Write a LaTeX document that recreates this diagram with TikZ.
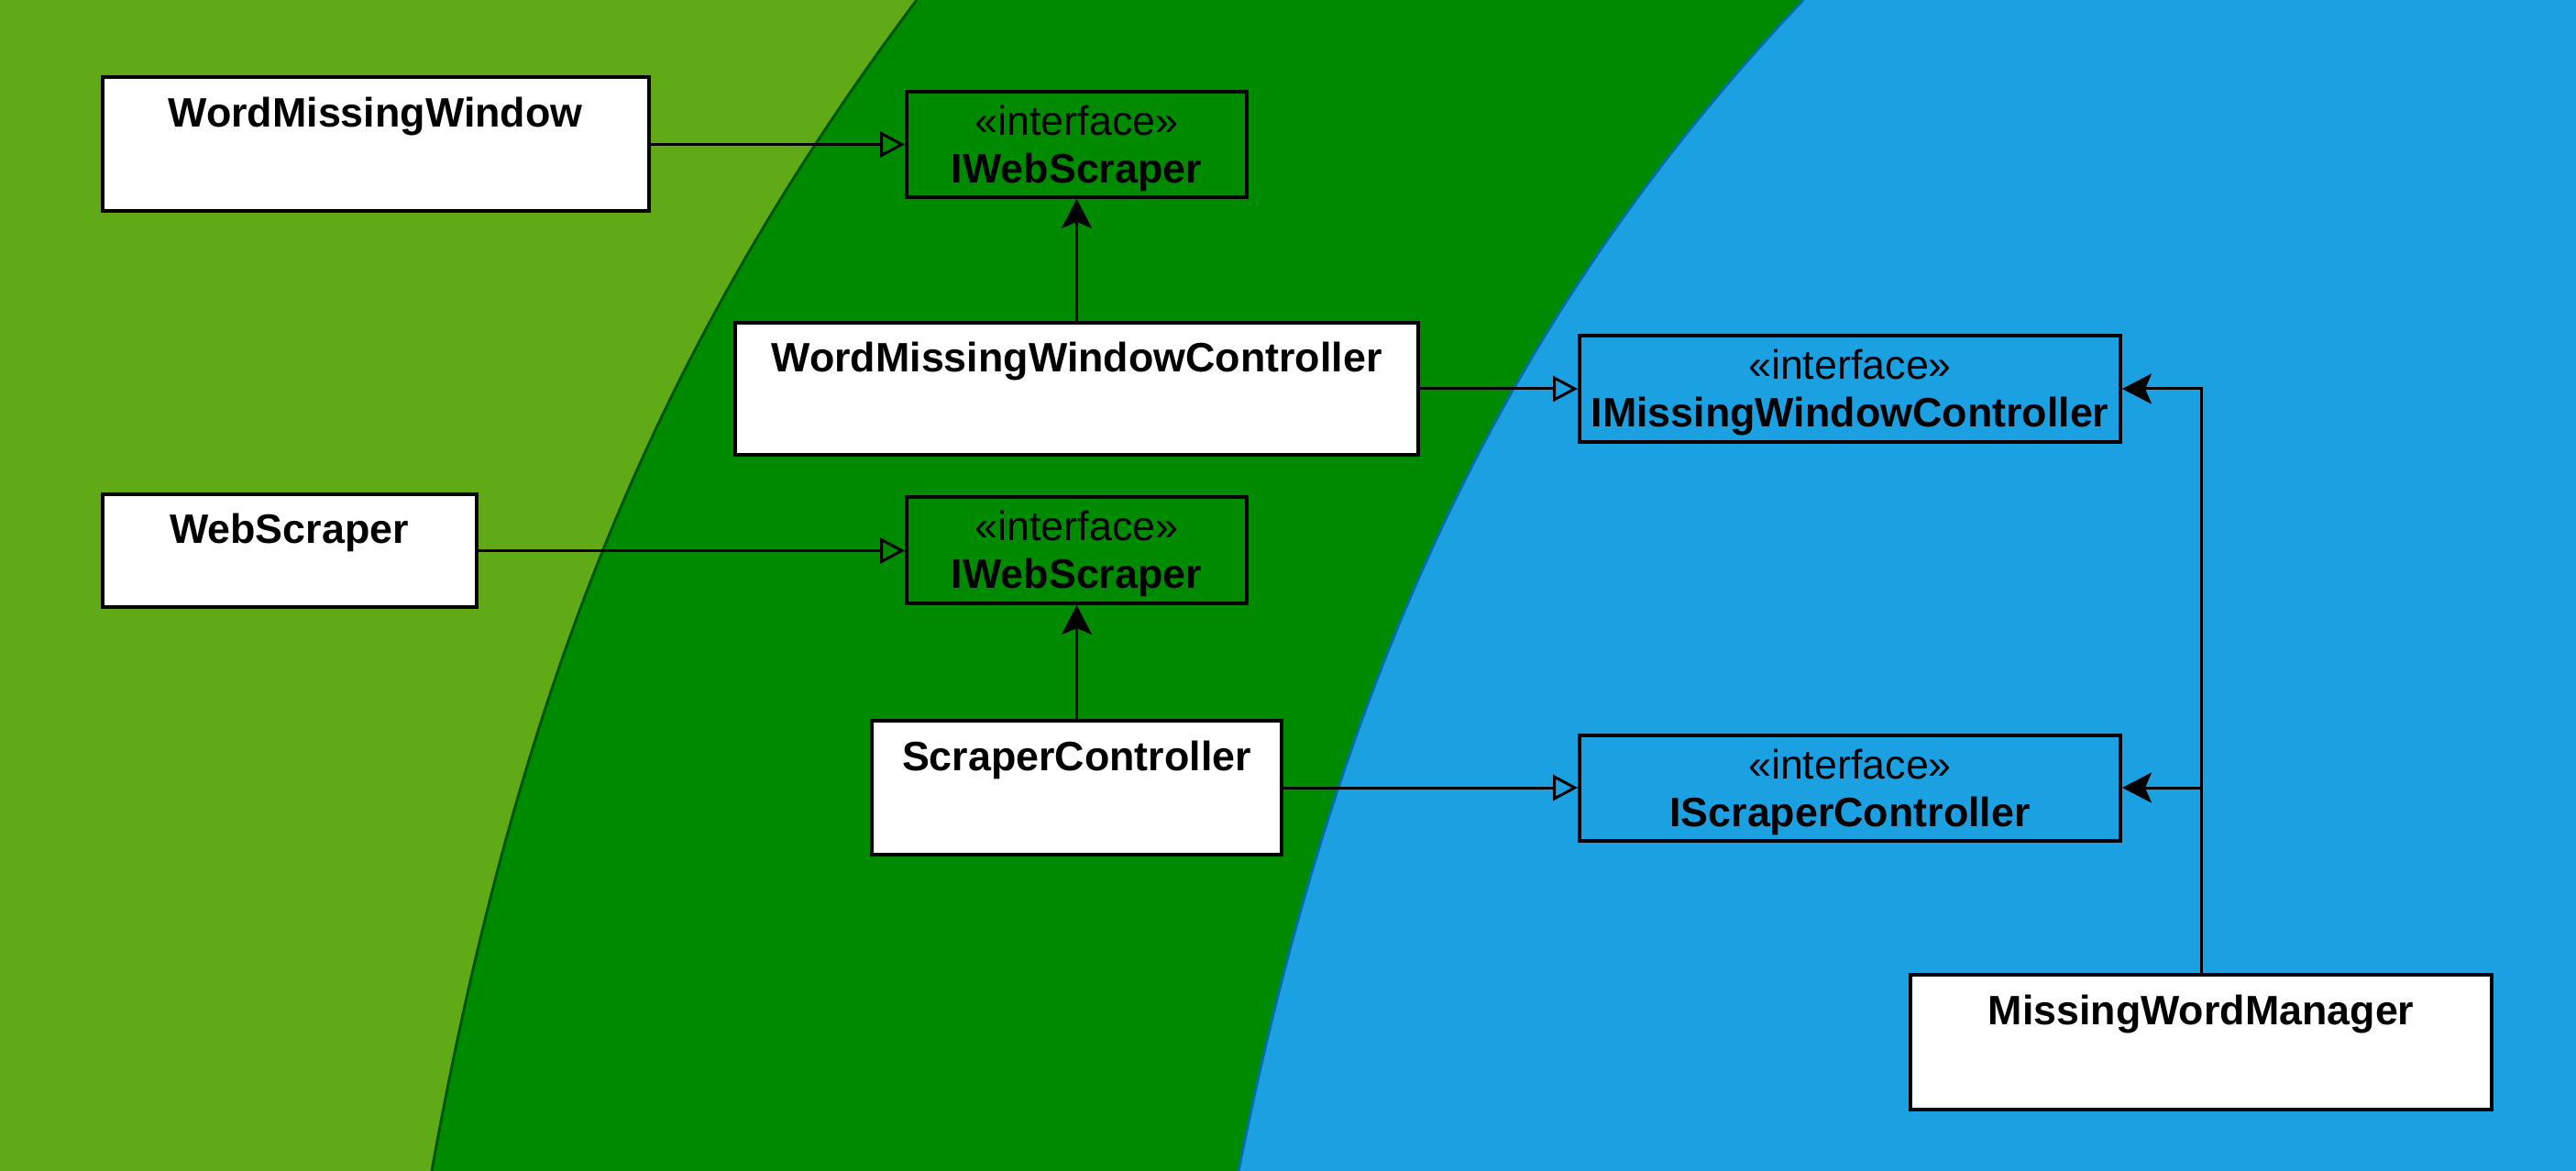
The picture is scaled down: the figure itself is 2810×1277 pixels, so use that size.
\documentclass[tikz,border=0pt]{standalone}
\usepackage{fontspec}
\setmainfont{Liberation Sans}
\usetikzlibrary{arrows.meta}
\definecolor{lgreen}{HTML}{60A917}
\definecolor{dgreen}{HTML}{008A00}
\definecolor{dgstroke}{HTML}{005700}
\definecolor{blueA}{HTML}{1BA1E2}
\definecolor{bstroke}{HTML}{006EAF}
\tikzset{
  clsbox/.style={draw=black, fill=white, line width=2pt, rectangle, inner sep=0pt},
  ifbox/.style={draw=black, line width=2pt, rectangle, inner sep=0pt},
  ttl/.style={font=\bfseries\fontsize{22.4pt}{27pt}\selectfont, anchor=base, inner sep=0pt},
  ster/.style={font=\fontsize{22.4pt}{27pt}\selectfont, anchor=base, inner sep=0pt},
  realize/.style={draw=black, line width=1.5pt, -{Triangle[open, length=13.5pt, width=14pt]}},
  uses/.style={draw=black, line width=1.5pt, -{Stealth[length=16pt, width=16.5pt, inset=3.5pt]}},
}
\begin{document}
\begin{tikzpicture}[x=0.5pt, y=-0.5pt]
\useasboundingbox (0,0) rectangle (2810,1277);
\begin{scope}
\clip (0,0) rectangle (2810,1277);
\fill[lgreen] (0,0) rectangle (2810,1277);
\fill[dgreen] (1000,0) .. controls (720.6,372.5) and (567.2,742.9) .. (471,1277) -- (2810,1277) -- (2810,0) -- cycle;
\draw[dgstroke, line width=1.5pt] (1000,0) .. controls (720.6,372.5) and (567.2,742.9) .. (471,1277);
\fill[blueA] (1967,0) .. controls (1650.4,333.2) and (1461.3,725.2) .. (1351,1277) -- (2810,1277) -- (2810,0) -- cycle;
\draw[bstroke, line width=1.5pt] (1967,0) .. controls (1650.4,333.2) and (1461.3,725.2) .. (1351,1277);
\end{scope}

% class boxes
\node[clsbox, minimum width=298pt, minimum height=73pt] (wmw) at (409.5,157.5) {};
\node[ifbox, minimum width=185.5pt, minimum height=57.5pt] (iws1) at (1174.5,157.5) {};
\node[clsbox, minimum width=372.5pt, minimum height=72pt] (wmwc) at (1174.5,424) {};
\node[ifbox, minimum width=295pt, minimum height=58pt] (imwc) at (2018,424) {};
\node[clsbox, minimum width=204pt, minimum height=61.5pt] (ws) at (315.5,600.5) {};
\node[ifbox, minimum width=185.5pt, minimum height=58pt] (iws2) at (1174.5,600) {};
\node[clsbox, minimum width=223.5pt, minimum height=73pt] (sc) at (1174.5,859) {};
\node[ifbox, minimum width=295pt, minimum height=57.5pt] (isc) at (2018,859) {};
\node[clsbox, minimum width=317pt, minimum height=73.5pt] (mwm) at (2401,1136.5) {};

% texts
\node[ttl] (wmw-t) at ([yshift=-28pt]wmw.north) {WordMissingWindow};
\node[ster] (iws1-s) at ([yshift=-25pt]iws1.north) {«interface»};
\node[ttl] (iws1-t) at ([yshift=-51pt]iws1.north) {IWebScraper};
\node[ttl] (wmwc-t) at ([yshift=-28pt]wmwc.north) {WordMissingWindowController};
\node[ster] (imwc-s) at ([yshift=-25pt]imwc.north) {«interface»};
\node[ttl] (imwc-t) at ([yshift=-51pt]imwc.north) {IMissingWindowController};
\node[ttl] (ws-t) at ([yshift=-28pt]ws.north) {WebScraper};
\node[ster] (iws2-s) at ([yshift=-25pt]iws2.north) {«interface»};
\node[ttl] (iws2-t) at ([yshift=-51pt]iws2.north) {IWebScraper};
\node[ttl] (sc-t) at ([yshift=-28pt]sc.north) {ScraperController};
\node[ster] (isc-s) at ([yshift=-25pt]isc.north) {«interface»};
\node[ttl] (isc-t) at ([yshift=-51pt]isc.north) {IScraperController};
\node[ttl] (mwm-t) at ([yshift=-28pt]mwm.north) {MissingWordManager};

% connectors
\draw[realize] (wmw.east) -- (wmw.east -| iws1.west);
\draw[uses] (wmwc.north) -- (iws1.south);
\draw[realize] (wmwc.east) -- (wmwc.east -| imwc.west);
\draw[realize] (ws.east) -- (ws.east -| iws2.west);
\draw[uses] (sc.north) -- (iws2.south);
\draw[realize] (sc.east) -- (sc.east -| isc.west);
\draw[uses] (mwm.north) |- (imwc.east);
\draw[uses] (mwm.north) |- (isc.east);
\end{tikzpicture}
\end{document}
